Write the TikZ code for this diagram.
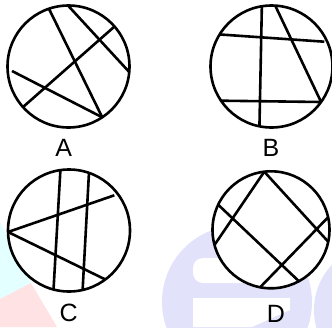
\documentclass[tikz,border=0pt]{standalone}
\usepackage{fontspec}
\setmainfont{Liberation Sans}
\definecolor{marklav}{RGB}{226,226,250}
\definecolor{markcyan}{RGB}{228,255,255}
\definecolor{markpink}{RGB}{255,226,228}

\begin{document}
\begin{tikzpicture}[
  x=1pt, y=-1pt,
  ring/.style={draw, fill=white, line width=2.6pt},
  chord/.style={draw, line width=2.6pt},
  tag/.style={inner sep=0pt, font=\fontsize{25}{30}\selectfont}
]
\useasboundingbox (0,0) rectangle (332,327);

% faint watermark behind the circles
\begin{scope}
  \clip (0,0) rectangle (332,327);
  \fill[markcyan] (0,222) -- (31,283) -- (0,299) -- cycle;
  \fill[markpink] (0,299) -- (31,283) -- (57,327) -- (0,327) -- cycle;
  \fill[marklav] (237,302) ellipse [x radius=75, y radius=76];
  \fill[white, rounded corners=10pt] (193,258) rectangle (266,283);
  \fill[white] (193,298) -- (290,298) -- (290,310) -- (252,327) -- (193,327) -- cycle;
  \fill[marklav] (380,310) circle (66);
\end{scope}

% centres
\coordinate (ca) at (68.5,66.5);
\coordinate (cb) at (271.5,66.5);
\coordinate (cc) at (69,230.5);
\coordinate (cd) at (271,229.8);

\draw[ring] (ca) circle (61);
\draw[ring] (cb) circle (61);
\draw[ring] (cc) circle (61);
\draw[ring] (cd) circle (58.5);

% A
\coordinate (a1) at ([shift={(-108.7:61)}]ca);
\coordinate (a2) at ([shift={(56.4:61)}]ca);
\coordinate (a3) at ([shift={(-90.5:61)}]ca);
\coordinate (a4) at ([shift={(5.2:61)}]ca);
\coordinate (a5) at ([shift={(138.3:61)}]ca);
\coordinate (a6) at ([shift={(-41:61)}]ca);
\coordinate (a7) at (12,71);
\draw[chord] (a1) -- (a2);
\draw[chord] (a3) -- (a4);
\draw[chord] (a5) -- (a6);
\draw[chord] (a7) -- (a2);

% B
\coordinate (b1) at ([shift={(-99.1:61)}]cb);
\coordinate (b2) at ([shift={(101.4:61)}]cb);
\coordinate (b3) at ([shift={(-86.5:61)}]cb);
\coordinate (b4) at ([shift={(35.6:61)}]cb);
\coordinate (b5) at ([shift={(-148.3:61)}]cb);
\coordinate (b6) at (324.3,41.7);
\coordinate (b7) at ([shift={(145.9:61)}]cb);
\draw[chord] (b1) -- (b2);
\draw[chord] (b3) -- (b4);
\draw[chord] (b5) -- (b6);
\draw[chord] (b7) -- (b4);

% C
\coordinate (c1) at ([shift={(-98.1:61)}]cc);
\coordinate (c2) at ([shift={(104.7:61)}]cc);
\coordinate (c3) at ([shift={(-70.9:61)}]cc);
\coordinate (c4) at ([shift={(77.1:61)}]cc);
\coordinate (c5) at ([shift={(178.6:61)}]cc);
\coordinate (c6) at (114.3,195.3);
\coordinate (c7) at ([shift={(53.4:61)}]cc);
\draw[chord] (c1) -- (c2);
\draw[chord] (c3) -- (c4);
\draw[chord] (c5) -- (c6);
\draw[chord] (c5) -- (c7);

% D
\coordinate (d1) at ([shift={(-96.6:58.5)}]cd);
\coordinate (d2) at ([shift={(165:58.5)}]cd);
\coordinate (d3) at ([shift={(11.8:58.5)}]cd);
\coordinate (d4) at ([shift={(-154.6:58.5)}]cd);
\coordinate (d5) at ([shift={(61.5:58.5)}]cd);
\coordinate (d6) at ([shift={(-12.4:58.5)}]cd);
\coordinate (d7) at ([shift={(100.7:58.5)}]cd);
\draw[chord] (d1) -- (d2);
\draw[chord] (d1) -- (d3);
\draw[chord] (d4) -- (d5);
\draw[chord] (d6) -- (d7);

\node[tag] (la) at (63.8,147.5) {A};
\node[tag] (lb) at (271,147.5) {B};
\node[tag] (lc) at (68.7,313.3) {C};
\node[tag] (ld) at (276,313.5) {D};
\end{tikzpicture}
\end{document}
